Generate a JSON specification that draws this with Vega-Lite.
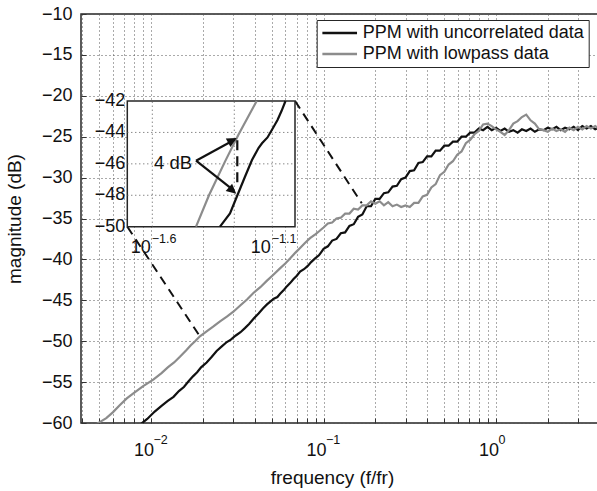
{
  "$schema": "https://vega.github.io/schema/vega-lite/v6.json",
  "width": 517,
  "height": 409,
  "autosize": "none",
  "padding": {"left": 81, "top": 14, "right": 0, "bottom": 68},
  "background": "white",
  "config": {
    "font": "Liberation Sans",
    "view": {"stroke": "#262626", "strokeWidth": 1.5},
    "axis": {
      "labelFontSize": 18, "titleFontSize": 19, "titleFontWeight": "normal",
      "labelColor": "#111111", "titleColor": "#111111",
      "gridColor": "#555555", "gridDash": [1, 3], "gridWidth": 1, "gridOpacity": 1,
      "domain": false, "tickColor": "#333333", "tickSize": -5, "tickWidth": 1
    }
  },
  "datasets": {
    "black": [
      {"f": 0.0087, "db": -60.15}, {"f": 0.0095, "db": -59.5}, {"f": 0.0105, "db": -58.6}, {"f": 0.0115, "db": -57.9},
      {"f": 0.0125, "db": -57.3}, {"f": 0.0135, "db": -56.8}, {"f": 0.0145, "db": -56.1}, {"f": 0.0155, "db": -55.6},
      {"f": 0.0165, "db": -54.9}, {"f": 0.0175, "db": -54.3}, {"f": 0.0185, "db": -53.8}, {"f": 0.0195, "db": -53.2},
      {"f": 0.021, "db": -52.6}, {"f": 0.0225, "db": -51.9}, {"f": 0.024, "db": -51.2}, {"f": 0.0258, "db": -50.6},
      {"f": 0.0275, "db": -50.1}, {"f": 0.029, "db": -49.8}, {"f": 0.031, "db": -49.3}, {"f": 0.033, "db": -48.9},
      {"f": 0.035, "db": -48.4}, {"f": 0.037, "db": -47.9}, {"f": 0.0395, "db": -47.2}, {"f": 0.042, "db": -46.6},
      {"f": 0.0445, "db": -46.0}, {"f": 0.047, "db": -45.5}, {"f": 0.0495, "db": -45.1}, {"f": 0.0515, "db": -44.8},
      {"f": 0.054, "db": -44.6}, {"f": 0.056, "db": -44.2}, {"f": 0.059, "db": -43.7}, {"f": 0.0612, "db": -43.3},
      {"f": 0.064, "db": -42.9}, {"f": 0.067, "db": -42.4}, {"f": 0.07, "db": -42.0}, {"f": 0.0731, "db": -41.5},
      {"f": 0.077, "db": -41.2}, {"f": 0.081, "db": -40.8}, {"f": 0.085, "db": -40.3}, {"f": 0.089, "db": -39.9},
      {"f": 0.094, "db": -39.5}, {"f": 0.097, "db": -39.1},
      {"f": 0.1, "db": -38.7}, {"f": 0.10593, "db": -38.4}, {"f": 0.1122, "db": -37.7}, {"f": 0.11885, "db": -37.5},
      {"f": 0.12589, "db": -36.8}, {"f": 0.13335, "db": -36.7}, {"f": 0.14125, "db": -35.9}, {"f": 0.14962, "db": -35.7},
      {"f": 0.15849, "db": -34.8}, {"f": 0.16788, "db": -34.5}, {"f": 0.17783, "db": -33.5}, {"f": 0.18836, "db": -33.5},
      {"f": 0.19953, "db": -32.6}, {"f": 0.21135, "db": -32.6}, {"f": 0.22387, "db": -31.9}, {"f": 0.23714, "db": -31.8},
      {"f": 0.25119, "db": -31.1}, {"f": 0.26607, "db": -31.0}, {"f": 0.28184, "db": -30.2}, {"f": 0.29854, "db": -30.0},
      {"f": 0.31623, "db": -29.2}, {"f": 0.33497, "db": -29.1}, {"f": 0.35481, "db": -28.2}, {"f": 0.37584, "db": -28.1},
      {"f": 0.39811, "db": -27.4}, {"f": 0.4217, "db": -27.4}, {"f": 0.44668, "db": -26.7}, {"f": 0.47315, "db": -26.7},
      {"f": 0.50119, "db": -26.1}, {"f": 0.53088, "db": -26.1}, {"f": 0.56234, "db": -25.6}, {"f": 0.59566, "db": -25.6},
      {"f": 0.63096, "db": -25.0}, {"f": 0.66834, "db": -25.0}, {"f": 0.70795, "db": -24.5}, {"f": 0.74989, "db": -24.5},
      {"f": 0.79433, "db": -24.0}, {"f": 0.8414, "db": -24.2}, {"f": 0.89125, "db": -23.8}, {"f": 0.94406, "db": -24.2},
      {"f": 1.0, "db": -23.9}, {"f": 1.0593, "db": -24.3}, {"f": 1.122, "db": -24.0}, {"f": 1.1885, "db": -24.4},
      {"f": 1.2589, "db": -24.2}, {"f": 1.3335, "db": -24.5}, {"f": 1.4125, "db": -24.1}, {"f": 1.4962, "db": -24.3},
      {"f": 1.5849, "db": -24.0}, {"f": 1.6788, "db": -24.4}, {"f": 1.7783, "db": -24.1}, {"f": 1.8836, "db": -24.2},
      {"f": 1.9953, "db": -23.9}, {"f": 2.1135, "db": -24.1}, {"f": 2.2387, "db": -23.8}, {"f": 2.3714, "db": -24.2},
      {"f": 2.5119, "db": -23.9}, {"f": 2.6607, "db": -24.1}, {"f": 2.8184, "db": -23.8}, {"f": 2.9854, "db": -24.2},
      {"f": 3.1623, "db": -23.7}, {"f": 3.3497, "db": -24.0}, {"f": 3.5481, "db": -23.7}, {"f": 3.7584, "db": -24.1},
      {"f": 3.9811, "db": -23.9}
    ],
    "gray": [
      {"f": 0.00485, "db": -60.1}, {"f": 0.0055, "db": -59.4}, {"f": 0.006, "db": -58.7}, {"f": 0.0066, "db": -57.8},
      {"f": 0.00723, "db": -57.0}, {"f": 0.008, "db": -56.3}, {"f": 0.009, "db": -55.5}, {"f": 0.0103, "db": -54.7},
      {"f": 0.0115, "db": -53.9}, {"f": 0.0125, "db": -53.2}, {"f": 0.0136, "db": -52.6}, {"f": 0.0147, "db": -51.9},
      {"f": 0.016, "db": -51.1}, {"f": 0.017, "db": -50.5}, {"f": 0.018, "db": -50.0}, {"f": 0.0192, "db": -49.4},
      {"f": 0.021, "db": -48.8}, {"f": 0.023, "db": -48.2}, {"f": 0.025, "db": -47.6}, {"f": 0.0275, "db": -47.0},
      {"f": 0.03, "db": -46.4}, {"f": 0.033, "db": -45.6}, {"f": 0.036, "db": -44.9}, {"f": 0.0392, "db": -44.1},
      {"f": 0.043, "db": -43.4}, {"f": 0.047, "db": -42.6}, {"f": 0.051, "db": -41.9}, {"f": 0.0559, "db": -41.1},
      {"f": 0.06, "db": -40.5}, {"f": 0.0639, "db": -39.9}, {"f": 0.0685, "db": -39.2}, {"f": 0.0731, "db": -38.6},
      {"f": 0.078, "db": -38.0}, {"f": 0.0835, "db": -37.4}, {"f": 0.09, "db": -36.9}, {"f": 0.095, "db": -36.5},
      {"f": 0.1, "db": -36.1}, {"f": 0.10593, "db": -35.6}, {"f": 0.1122, "db": -35.5}, {"f": 0.11885, "db": -35.0},
      {"f": 0.12589, "db": -34.9}, {"f": 0.13335, "db": -34.4}, {"f": 0.14125, "db": -34.4}, {"f": 0.14962, "db": -33.8},
      {"f": 0.15849, "db": -33.9}, {"f": 0.16788, "db": -33.4}, {"f": 0.17783, "db": -33.4}, {"f": 0.18836, "db": -32.9},
      {"f": 0.19953, "db": -33.2}, {"f": 0.21135, "db": -32.9}, {"f": 0.22387, "db": -33.4}, {"f": 0.23714, "db": -33.0},
      {"f": 0.25119, "db": -33.5}, {"f": 0.26607, "db": -33.3}, {"f": 0.28184, "db": -33.6}, {"f": 0.29854, "db": -33.4},
      {"f": 0.31623, "db": -33.6}, {"f": 0.33497, "db": -33.1}, {"f": 0.35481, "db": -33.1}, {"f": 0.37584, "db": -32.3},
      {"f": 0.39811, "db": -32.1}, {"f": 0.4217, "db": -31.2}, {"f": 0.44668, "db": -30.8}, {"f": 0.47315, "db": -29.7},
      {"f": 0.50119, "db": -29.3}, {"f": 0.53088, "db": -28.4}, {"f": 0.56234, "db": -28.0}, {"f": 0.59566, "db": -27.2},
      {"f": 0.63096, "db": -26.8}, {"f": 0.66834, "db": -25.8}, {"f": 0.70795, "db": -25.4}, {"f": 0.74989, "db": -24.7},
      {"f": 0.79433, "db": -24.3}, {"f": 0.8414, "db": -23.5}, {"f": 0.89125, "db": -23.4}, {"f": 0.94406, "db": -23.7},
      {"f": 1.0, "db": -24.1}, {"f": 1.0593, "db": -24.4}, {"f": 1.122, "db": -24.8}, {"f": 1.1885, "db": -24.2},
      {"f": 1.2589, "db": -23.4}, {"f": 1.3335, "db": -23.1}, {"f": 1.4125, "db": -22.6}, {"f": 1.4962, "db": -22.3},
      {"f": 1.5849, "db": -23.0}, {"f": 1.6788, "db": -23.4}, {"f": 1.7783, "db": -24.1}, {"f": 1.8836, "db": -24.2},
      {"f": 1.9953, "db": -24.4}, {"f": 2.1135, "db": -24.0}, {"f": 2.2387, "db": -24.3}, {"f": 2.3714, "db": -24.1},
      {"f": 2.5119, "db": -24.4}, {"f": 2.6607, "db": -23.9}, {"f": 2.8184, "db": -24.2}, {"f": 2.9854, "db": -23.8},
      {"f": 3.1623, "db": -24.1}, {"f": 3.3497, "db": -23.7}, {"f": 3.5481, "db": -24.0}, {"f": 3.7584, "db": -23.7},
      {"f": 3.9811, "db": -24.1}
    ],
    "connectors": [
      {"f": 0.06837, "db": -20.64, "f2": 0.1665, "db2": -33.14},
      {"f": 0.007288, "db": -36.0, "f2": 0.01924, "db2": -49.45}
    ],
    "xexp": [
      {"f": 0.01, "db": -60, "t": "−2"},
      {"f": 0.1, "db": -60, "t": "−1"},
      {"f": 1, "db": -60, "t": "0"}
    ],
    "topticks": [
      {"f": 0.004}, {"f": 0.005}, {"f": 0.006}, {"f": 0.007}, {"f": 0.008}, {"f": 0.009},
      {"f": 0.01}, {"f": 0.02}, {"f": 0.03}, {"f": 0.04}, {"f": 0.05}, {"f": 0.06}, {"f": 0.07}, {"f": 0.08}, {"f": 0.09},
      {"f": 0.1}, {"f": 0.2}, {"f": 0.3}, {"f": 0.4}, {"f": 0.5}, {"f": 0.6}, {"f": 0.7}, {"f": 0.8}, {"f": 0.9},
      {"f": 1}, {"f": 2}, {"f": 3}
    ],
    "rightticks": [
      {"db": -55}, {"db": -50}, {"db": -45}, {"db": -40}, {"db": -35}, {"db": -30}, {"db": -25}, {"db": -20}, {"db": -15}
    ],
    "inset_gray": [
      {"x": 0.03821, "y": -50.0}, {"x": 0.04327, "y": -48.0}, {"x": 0.05044, "y": -45.86},
      {"x": 0.05731, "y": -44.16}, {"x": 0.06839, "y": -42.0}
    ],
    "inset_black": [
      {"x": 0.04808, "y": -50.0}, {"x": 0.05293, "y": -49.15}, {"x": 0.05689, "y": -47.98},
      {"x": 0.06111, "y": -46.82}, {"x": 0.06537, "y": -45.76}, {"x": 0.06958, "y": -44.99},
      {"x": 0.07196, "y": -44.69}, {"x": 0.07586, "y": -44.32}, {"x": 0.08018, "y": -43.69},
      {"x": 0.08351, "y": -43.21}, {"x": 0.08678, "y": -42.64}, {"x": 0.09016, "y": -42.0}
    ],
    "inset_grid": [
      {"x": 0.019757, "x2": 0.09877, "y": -44, "y2": -44},
      {"x": 0.019757, "x2": 0.09877, "y": -46, "y2": -46},
      {"x": 0.019757, "x2": 0.09877, "y": -48, "y2": -48},
      {"x": 0.025119, "x2": 0.025119, "y": -50, "y2": -42},
      {"x": 0.05516, "x2": 0.05516, "y": -50, "y2": -42},
      {"x": 0.079433, "x2": 0.079433, "y": -50, "y2": -42}
    ],
    "inset_ylabels": [
      {"x": 0.019757, "y": -42, "t": "−42"}, {"x": 0.019757, "y": -44, "t": "−44"},
      {"x": 0.019757, "y": -46, "t": "−46"}, {"x": 0.019757, "y": -48, "t": "−48"},
      {"x": 0.019757, "y": -50, "t": "−50"}
    ],
    "inset_xbase": [
      {"x": 0.025119, "y": -50, "t": "10"}, {"x": 0.079433, "y": -50, "t": "10"}
    ],
    "inset_xexp": [
      {"x": 0.025119, "y": -50, "t": "−1.6"}, {"x": 0.079433, "y": -50, "t": "−1.1"}
    ]
  },
  "layer": [
    {
      "encoding": {
        "x": {
          "field": "f", "type": "quantitative",
          "scale": {"type": "log", "domain": [0.003925, 3.9], "nice": false},
          "axis": {
            "title": "frequency (f/fr)", "titleFontSize": 19,
            "values": [0.004, 0.005, 0.006, 0.007, 0.008, 0.009, 0.01, 0.02, 0.03, 0.04, 0.05, 0.06, 0.07, 0.08, 0.09, 0.1, 0.2, 0.3, 0.4, 0.5, 0.6, 0.7, 0.8, 0.9, 1, 2, 3],
            "labelExpr": "(datum.value == 0.01 || datum.value == 0.1 || datum.value == 1) ? '10' : ''",
            "labelOverlap": false, "labelFlush": false, "labelOffset": -7.5,
            "labelPadding": 23, "labelBaseline": "top", "labelFontSize": 18,
            "grid": true, "titlePadding": 9, "titleX": 251
          }
        },
        "y": {
          "field": "db", "type": "quantitative",
          "scale": {"domain": [-60, -10], "nice": false, "zero": false},
          "axis": {
            "title": "magnitude (dB)", "titleFontSize": 19, "labelFontSize": 18,
            "values": [-60, -55, -50, -45, -40, -35, -30, -25, -20, -15, -10],
            "labelPadding": 14, "grid": true, "titlePadding": 17
          }
        }
      },
      "layer": [
        {
          "data": {"name": "black"},
          "mark": {"type": "line", "strokeWidth": 2.2, "clip": true},
          "encoding": {
            "color": {
              "datum": "PPM with uncorrelated data",
              "scale": {"domain": ["PPM with uncorrelated data", "PPM with lowpass data"], "range": ["#111111", "#8c8c8c"]},
              "legend": {
                "orient": "none", "legendX": 235.7, "legendY": 6, "title": null,
                "strokeColor": "#262626", "fillColor": "white", "padding": 4,
                "labelFontSize": 18, "labelColor": "#111111", "symbolType": "stroke", "symbolStrokeWidth": 2.5,
                "symbolSize": 1200, "rowPadding": 3, "labelOffset": 4, "labelLimit": 400, "clipHeight": 18
              }
            }
          }
        },
        {
          "data": {"name": "gray"},
          "mark": {"type": "line", "strokeWidth": 2.2, "clip": true},
          "encoding": {"color": {"datum": "PPM with lowpass data"}}
        },
        {
          "data": {"name": "connectors"},
          "mark": {"type": "rule", "strokeDash": [9, 6], "strokeWidth": 2, "color": "#111111"},
          "encoding": {"x2": {"field": "f2"}, "y2": {"field": "db2"}}
        },
        {
          "data": {"name": "topticks"},
          "mark": {"type": "rule", "strokeWidth": 1, "color": "#333333"},
          "encoding": {"y": {"datum": -10}, "y2": {"datum": -10.6}}
        },
        {
          "data": {"name": "rightticks"},
          "mark": {"type": "rule", "strokeWidth": 1, "color": "#333333"},
          "encoding": {"x": {"datum": 3.9}, "x2": {"datum": 3.64}}
        },
        {
          "data": {"name": "xexp"},
          "mark": {"type": "text", "align": "left", "baseline": "alphabetic", "dx": 2.5, "dy": 21, "fontSize": 12.5, "color": "#111111"},
          "encoding": {"text": {"field": "t"}}
        }
      ]
    },
    {
      "encoding": {
        "x": {"field": "x", "type": "quantitative", "scale": {"type": "log", "domain": [0.019757, 0.09877], "range": [46.3, 214], "nice": false}, "axis": null},
        "y": {"field": "y", "type": "quantitative", "scale": {"domain": [-50, -42], "range": [212.7, 87], "nice": false, "zero": false}, "axis": null}
      },
      "layer": [
        {
          "data": {"values": [{"x": 0.019757, "x2": 0.09877, "y": -50, "y2": -42}]},
          "mark": {"type": "rect", "fill": "white", "stroke": "#262626", "strokeWidth": 1.5},
          "encoding": {"x2": {"field": "x2"}, "y2": {"field": "y2"}}
        },
        {
          "data": {"name": "inset_grid"},
          "mark": {"type": "rule", "strokeDash": [1, 3], "strokeWidth": 1, "color": "#555555"},
          "encoding": {"x2": {"field": "x2"}, "y2": {"field": "y2"}}
        },
        {
          "data": {"name": "inset_gray"},
          "mark": {"type": "line", "strokeWidth": 2.2, "color": "#8c8c8c"}
        },
        {
          "data": {"name": "inset_black"},
          "mark": {"type": "line", "strokeWidth": 2.2, "color": "#111111"}
        },
        {
          "data": {"values": [{"x": 0.05677, "y": -44.5, "y2": -47.5}]},
          "mark": {"type": "rule", "strokeDash": [10, 6], "strokeWidth": 2.2, "color": "#111111"},
          "encoding": {"y2": {"field": "y2"}}
        },
        {
          "data": {"values": [
            {"x": 0.03821, "y": -45.8, "x2": 0.0555, "y2": -44.45},
            {"x": 0.03821, "y": -45.8, "x2": 0.0550, "y2": -47.7}
          ]},
          "mark": {"type": "rule", "strokeWidth": 2.2, "color": "#111111"},
          "encoding": {"x2": {"field": "x2"}, "y2": {"field": "y2"}}
        },
        {
          "data": {"values": [{"x": 0.05644, "y": -44.36}]},
          "mark": {"type": "point", "shape": "M0,0L-1,-0.5L-1,0.5Z", "filled": true, "size": 380, "opacity": 1, "color": "#111111", "angle": -29}
        },
        {
          "data": {"values": [{"x": 0.0562, "y": -47.9}]},
          "mark": {"type": "point", "shape": "M0,0L-1,-0.5L-1,0.5Z", "filled": true, "size": 380, "opacity": 1, "color": "#111111", "angle": 41}
        },
        {
          "data": {"values": [{"x": 0.03821, "y": -45.8, "t": "4 dB"}]},
          "mark": {"type": "text", "align": "right", "baseline": "middle", "dx": -4, "dy": 2, "fontSize": 18.5, "color": "#111111"},
          "encoding": {"text": {"field": "t"}}
        },
        {
          "data": {"name": "inset_ylabels"},
          "mark": {"type": "text", "align": "right", "baseline": "middle", "dx": -2, "fontSize": 18, "color": "#111111"},
          "encoding": {"text": {"field": "t"}}
        },
        {
          "data": {"name": "inset_xbase"},
          "mark": {"type": "text", "align": "right", "baseline": "alphabetic", "dx": -1.5, "dy": 26, "fontSize": 18, "color": "#111111"},
          "encoding": {"text": {"field": "t"}}
        },
        {
          "data": {"name": "inset_xexp"},
          "mark": {"type": "text", "align": "left", "baseline": "alphabetic", "dx": -0.5, "dy": 16, "fontSize": 12.5, "color": "#111111"},
          "encoding": {"text": {"field": "t"}}
        }
      ]
    }
  ],
  "resolve": {"scale": {"x": "independent", "y": "independent"}}
}
